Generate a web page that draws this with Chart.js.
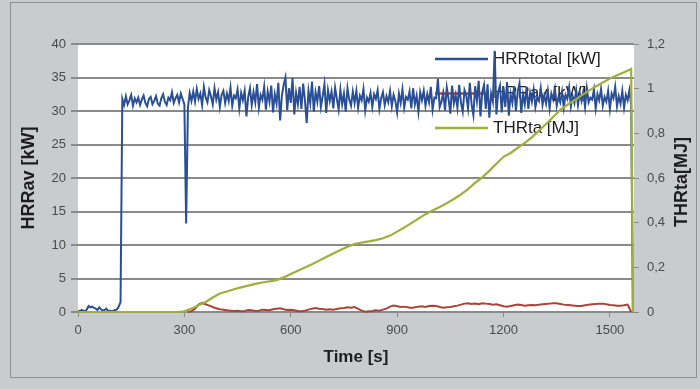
<!DOCTYPE html>
<html>
<head>
<meta charset="utf-8">
<script src="https://cdn.jsdelivr.net/npm/chart.js@4.4.1/dist/chart.umd.min.js"></script>
<style>
  html, body { margin: 0; padding: 0; background: #c9ccce; }
  #wrap { width: 700px; height: 389px; }
</style>
</head>
<body>
<div id="wrap"><canvas id="chart_hrr" width="700" height="389"></canvas></div>
<script>
// HRRtotal, logged every 5 s from t = 0
const HRR_STEP = 5;
const hrrTotal = [
    0.2, 0.1, 0.3, 0.2, 0.1, 0.4, 0.9, 0.7, 0.8, 0.6,
    0.5, 0.3, 0.7, 0.4, 0.2, 0.3, 0.5, 0.1, 0.2, 0.1,
    0.2, 0.3, 0.4, 0.8, 1.5,
    31.8, 30.9, 32.2, 31.0, 31.6, 32.4, 30.8, 31.9, 31.3, 32.0,
    30.9, 31.7, 32.3, 31.2, 30.7, 31.8, 32.1, 31.0, 31.5, 32.2,
    31.1, 30.8, 31.9, 32.5, 31.4, 30.9, 32.0, 31.6, 32.8, 31.2,
    31.9, 32.4, 31.3, 32.6, 31.8, 31.0, 13.2, 30.5, 32.7, 31.5,
    32.9, 31.4, 33.3, 31.8, 32.6, 30.9, 33.6, 32.0, 31.3, 33.1,
    32.2, 31.0, 33.4, 31.7, 32.8, 30.6, 32.4, 33.0, 31.2, 32.6,
    31.5, 33.5, 30.8, 32.3, 31.9, 33.2, 30.4, 32.7, 31.6, 33.0,
    29.2, 32.1, 33.4, 30.9, 32.8, 31.3, 34.0, 30.5, 32.4, 31.7,
    33.6, 30.2, 32.9, 31.4, 33.8, 29.8, 32.5, 31.1, 34.2, 28.6,
    32.3, 33.9, 35.0, 30.1, 33.4, 31.2, 34.9, 29.5, 32.7, 31.0,
    33.6, 30.3, 34.1, 31.6, 28.2, 33.0, 31.2, 34.4, 29.9, 32.8,
    31.4, 33.7, 30.6, 32.2, 34.0, 29.7, 33.1, 31.5, 32.9, 30.4,
    33.5, 31.8, 30.2, 33.2, 31.0, 32.6, 29.9, 33.4, 31.7, 30.8,
    32.9, 31.2, 33.0, 30.5, 32.3, 31.6, 33.3, 30.1, 32.0, 31.4,
    32.7, 30.6, 32.5, 31.8, 33.1, 30.3, 31.9, 32.8, 30.9, 32.2,
    31.3, 33.0, 30.7, 32.4, 31.5, 29.8, 32.6, 31.2, 33.2, 30.5,
    32.1, 31.7, 32.9, 30.4, 33.4, 31.0, 32.3, 29.9, 32.8, 31.6,
    33.0, 30.8, 32.5, 31.3, 33.6, 30.2, 32.0, 31.9, 34.8, 30.6,
    31.4, 32.7, 30.1, 33.5, 31.8, 29.6, 33.8, 31.1, 32.4, 30.5,
    33.9, 31.2, 29.9, 33.1, 32.3, 30.4, 34.2, 31.0, 29.4, 33.7,
    31.5, 34.5, 29.2, 32.8, 33.9, 30.3, 34.0, 29.0, 32.6, 31.4,
    39.0, 29.5, 32.9, 33.8, 29.8, 33.6, 30.6, 34.3, 29.3, 32.5,
    31.2, 33.7, 30.0, 32.9, 34.1, 29.7, 32.4, 31.0, 33.5, 30.3,
    32.7, 31.4, 33.2, 30.6, 32.0, 31.5, 33.4, 30.9, 32.3, 31.1,
    33.0, 30.4, 32.6, 31.7, 33.3, 30.8, 32.1, 31.3, 32.9, 30.5,
    32.4, 31.8, 33.5, 30.7, 32.2, 31.2, 33.1, 30.9, 32.7, 31.5,
    32.9, 30.6, 33.4, 31.3, 32.0, 31.7, 33.2, 30.4, 32.5, 31.6,
    33.3, 30.8, 32.1, 31.4, 33.0, 30.3, 32.6, 31.9, 33.6, 30.7,
    32.2, 31.1, 33.0, 30.5, 32.4, 31.6, 33.1, 30.9, 0
];

// HRRav, every 10 s from t = 310
const HRRAV_START = 310;
const HRRAV_STEP = 10;
const hrrAv = [
    0, 0.1, 0.5, 1.1, 1.35, 1.15, 0.95, 0.75, 0.55, 0.4,
    0.35, 0.25, 0.2, 0.15, 0.2, 0.1, 0.15, 0.3, 0.25, 0.15,
    0.2, 0.35, 0.3, 0.25, 0.4, 0.5, 0.55, 0.4, 0.3, 0.35,
    0.25, 0.15, 0.1, 0.2, 0.35, 0.5, 0.6, 0.5, 0.45, 0.35,
    0.4, 0.35, 0.45, 0.55, 0.6, 0.7, 0.65, 0.75, 0.45, 0.2,
    0.05, 0.1, 0.15, 0.25, 0.2, 0.35, 0.5, 0.8, 0.95, 0.85,
    0.75, 0.8, 0.7, 0.6, 0.7, 0.8, 0.85, 0.75, 0.9, 0.95,
    0.9, 0.75, 0.65, 0.7, 0.75, 0.85, 0.95, 1.1, 1.25, 1.3,
    1.2, 1.25, 1.15, 1.3, 1.25, 1.2, 1.1, 1.15, 1.0, 0.85,
    0.8, 0.9, 1.0, 1.1, 1.05, 0.95, 1.0, 1.05, 1.0, 1.1,
    1.15, 1.2, 1.25, 1.3, 1.3, 1.2, 1.1, 1.05, 1.0, 0.95,
    0.9, 0.9, 1.0, 1.1, 1.15, 1.2, 1.25, 1.25, 1.15, 1.05,
    1.0, 0.95, 0.95, 1.0, 1.1, 0
];

// THRta [MJ], right axis
const thrtaTime = [
    0, 280, 300, 320, 340, 360, 380, 400, 420, 440, 460, 480,
    500, 520, 540, 560, 580, 600, 620, 640, 660, 680,
    700, 720, 740, 760, 780, 800, 820, 840, 860, 880,
    900, 920, 940, 960, 980, 1000, 1020, 1040, 1060, 1080,
    1100, 1120, 1140, 1160, 1180, 1200, 1220, 1240, 1260, 1280,
    1300, 1320, 1340, 1360, 1380, 1400, 1420, 1440, 1460, 1480,
    1500, 1520, 1540, 1560, 1565
];
const thrta = [
    0, 0, 0.003, 0.015, 0.03, 0.045, 0.065, 0.083, 0.092, 0.102, 0.11, 0.118,
    0.126, 0.132, 0.137, 0.143, 0.155, 0.17, 0.185, 0.199, 0.214, 0.23,
    0.246, 0.262, 0.278, 0.292, 0.304, 0.311, 0.316, 0.322, 0.33, 0.342,
    0.36, 0.378, 0.398, 0.418, 0.438, 0.455, 0.47, 0.487, 0.506, 0.527,
    0.55, 0.578, 0.603, 0.632, 0.664, 0.695, 0.712, 0.735, 0.757, 0.782,
    0.812, 0.842, 0.873, 0.905, 0.928, 0.948, 0.97, 0.99, 1.01, 1.028,
    1.045, 1.06, 1.074, 1.088, 0
];

const timeTicks = [0, 300, 600, 900, 1200, 1500];
const TIME_MAX = 1568;

const seriesNames = ['HRRtotal [kW]', 'HRRav [kW]', 'THRta [MJ]'];
const seriesColors = ['#2a4f96', '#a8453a', '#9fae3c'];

const FONT = '"Liberation Sans", Arial, sans-serif';

// фон, белая область графика, легенда и подпись правой оси
const decor = {
    id: 'decor',
    beforeDraw(chart) {
        const { ctx, chartArea: a } = chart;
        ctx.save();
        ctx.fillStyle = '#c9ccce';
        ctx.fillRect(0, 0, chart.width, chart.height);
        ctx.strokeStyle = '#8e9194';
        ctx.lineWidth = 1;
        ctx.strokeRect(10.5, 2.5, 686, 375);
        ctx.fillStyle = '#ffffff';
        ctx.fillRect(a.left, a.top, a.right - a.left, a.bottom - a.top);
        ctx.restore();
    },
    beforeDatasetsDraw(chart) {
        const { ctx, chartArea: a } = chart;
        ctx.save();
        // legend sits under the lines, like in the original
        ctx.font = '17px ' + FONT;
        ctx.textBaseline = 'middle';
        seriesNames.forEach((name, i) => {
            const y = a.top + 15 + i * 34.5;
            ctx.strokeStyle = seriesColors[i];
            ctx.lineWidth = 2.5;
            ctx.beginPath();
            ctx.moveTo(a.right - 199, y);
            ctx.lineTo(a.right - 146, y);
            ctx.stroke();
            ctx.fillStyle = '#1e1e1e';
            ctx.fillText(name, a.right - 141, y);
        });
        // right title reads bottom-to-top
        ctx.translate(682, 182);
        ctx.rotate(-Math.PI / 2);
        ctx.font = 'bold 18px ' + FONT;
        ctx.textAlign = 'center';
        ctx.fillStyle = '#1e1e1e';
        ctx.fillText('THRta[MJ]', 0, 0);
        ctx.restore();
    }
};

function toPoints(times, values) {
    return values.map((v, i) => ({ x: times[i], y: v }));
}

const hrrTotalTimes = hrrTotal.map((v, i) => i * HRR_STEP);
const hrrAvTimes = hrrAv.map((v, i) => HRRAV_START + i * HRRAV_STEP);

const tickFont = { family: FONT, size: 13 };
const titleFont = { family: FONT, size: 18, weight: 'bold' };

const chart = new Chart(document.getElementById('chart_hrr'), {
    type: 'line',
    data: {
        datasets: [
            {
                label: seriesNames[0],
                data: toPoints(hrrTotalTimes, hrrTotal),
                borderColor: seriesColors[0],
                borderWidth: 2,
                yAxisID: 'y',
                order: 2,
                clip: 3
            },
            {
                label: seriesNames[1],
                data: toPoints(hrrAvTimes, hrrAv),
                borderColor: seriesColors[1],
                borderWidth: 2,
                yAxisID: 'y',
                order: 1,
                clip: 3
            },
            {
                label: seriesNames[2],
                data: toPoints(thrtaTime, thrta),
                borderColor: seriesColors[2],
                borderWidth: 2.2,
                yAxisID: 'y1',
                order: 0,
                clip: 3
            }
        ]
    },
    options: {
        responsive: false,
        animation: false,
        devicePixelRatio: 1,
        pointRadius: 0,
        tension: 0,
        layout: { padding: { top: 44, left: 0, right: 0, bottom: 0 } },
        plugins: {
            legend: { display: false },
            tooltip: { enabled: false }
        },
        scales: {
            x: {
                type: 'linear',
                min: 0,
                max: TIME_MAX,
                afterBuildTicks: scale => {
                    scale.ticks = timeTicks.map(v => ({ value: v }));
                },
                afterFit: scale => { scale.height = 77; },
                grid: {
                    drawOnChartArea: false,
                    color: '#8a8a8a',
                    tickLength: 5,
                    lineWidth: 1
                },
                border: { display: false },
                ticks: {
                    font: tickFont,
                    color: '#4a4a4a',
                    padding: 6,
                    maxRotation: 0,
                    callback: v => String(v)
                },
                title: {
                    display: true,
                    text: 'Time [s]',
                    font: { family: FONT, size: 17, weight: 'bold' },
                    color: '#1e1e1e',
                    padding: { top: 0, bottom: 21 }
                }
            },
            y: {
                position: 'left',
                min: 0,
                max: 40,
                afterFit: scale => { scale.width = 78; },
                grid: {
                    color: '#8a8a8a',
                    lineWidth: 2,
                    tickLength: 7
                },
                border: { display: false },
                ticks: {
                    stepSize: 5,
                    font: tickFont,
                    color: '#4a4a4a',
                    padding: 5
                },
                title: {
                    display: true,
                    text: 'HRRav [kW]',
                    font: titleFont,
                    color: '#1e1e1e',
                    padding: { top: 18, bottom: 0 }
                }
            },
            y1: {
                position: 'right',
                min: 0,
                max: 1.2,
                afterFit: scale => { scale.width = 66; },
                grid: {
                    drawOnChartArea: false,
                    color: '#8a8a8a',
                    tickLength: 5
                },
                border: { display: false },
                ticks: {
                    stepSize: 0.2,
                    font: tickFont,
                    color: '#4a4a4a',
                    padding: 8,
                    callback: v => String(Math.round(v * 10) / 10).replace('.', ',')
                }
            }
        }
    },
    plugins: [decor]
});
</script>
</body>
</html>
